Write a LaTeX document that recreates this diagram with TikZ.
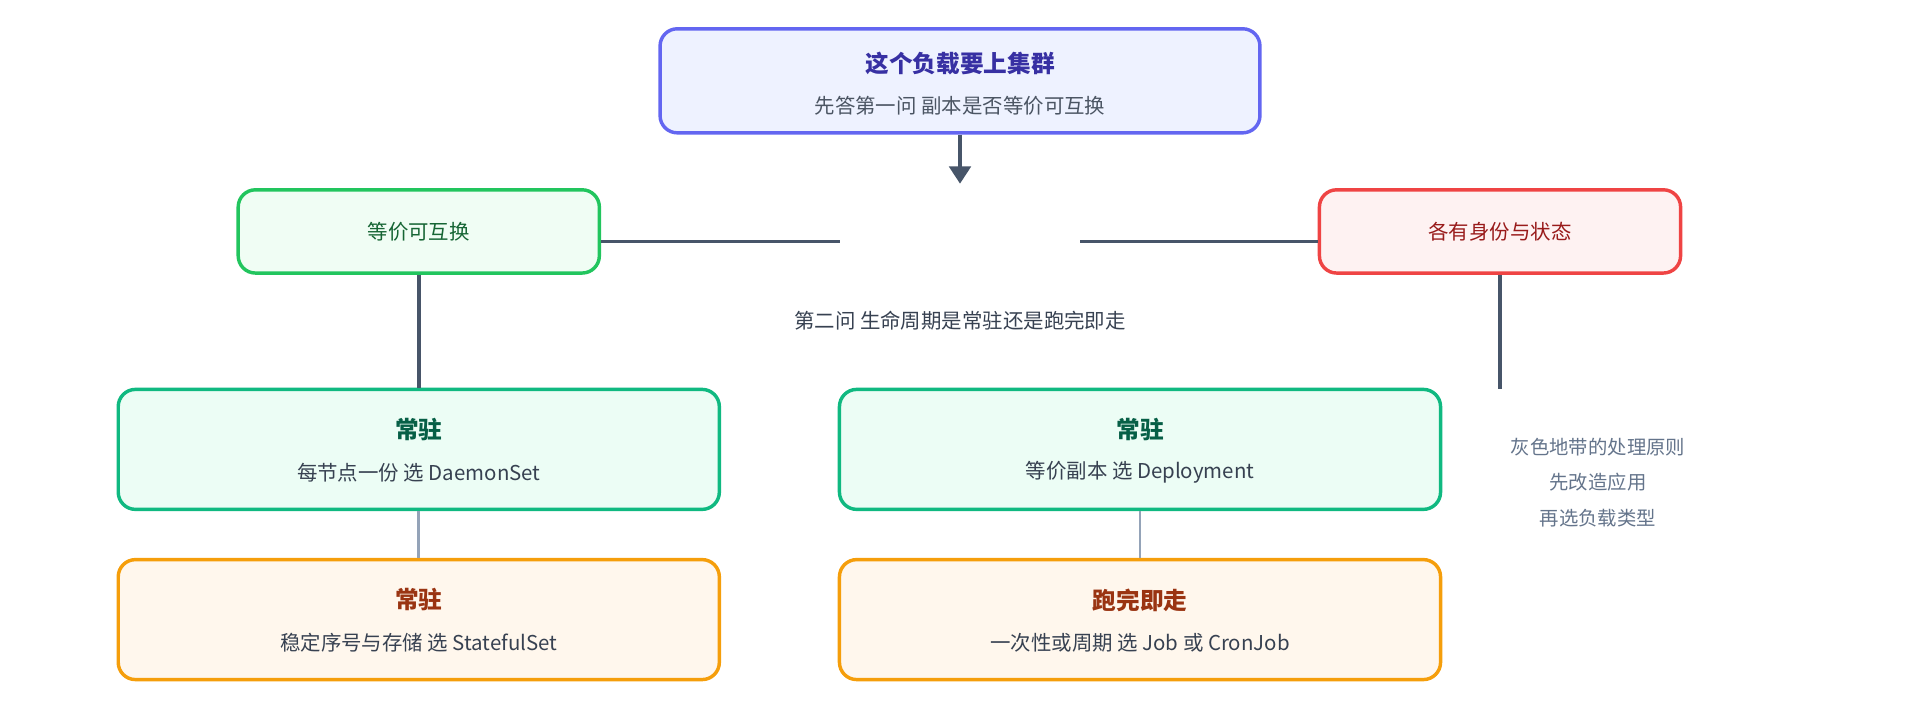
\documentclass[tikz,border=0pt]{standalone}
\usepackage{fontspec}
\setmainfont{Noto Sans CJK SC}
\usetikzlibrary{arrows.meta}
\definecolor{lineC}{HTML}{475569}
\definecolor{softC}{HTML}{94A3B8}
\definecolor{noteC}{HTML}{64748B}
\definecolor{subC}{HTML}{374151}
\definecolor{askD}{HTML}{6366F1}
\definecolor{askF}{HTML}{EEF2FF}
\definecolor{askT}{HTML}{3730A3}
\definecolor{askS}{HTML}{4B5563}
\definecolor{sameD}{HTML}{22C55E}
\definecolor{sameF}{HTML}{F0FDF4}
\definecolor{sameT}{HTML}{166534}
\definecolor{ownD}{HTML}{EF4444}
\definecolor{ownF}{HTML}{FEF2F2}
\definecolor{ownT}{HTML}{991B1B}
\definecolor{runD}{HTML}{10B981}
\definecolor{runF}{HTML}{ECFDF5}
\definecolor{runT}{HTML}{065F46}
\definecolor{endD}{HTML}{F59E0B}
\definecolor{endF}{HTML}{FFF7ED}
\definecolor{endT}{HTML}{9A3412}
\tikzset{
  box/.style={draw, line width=1.6pt, rounded corners=8pt, align=center, inner sep=0pt},
  title/.style={font=\fontsize{11pt}{14pt}\selectfont\bfseries},
  sub/.style={font=\fontsize{9.5pt}{12pt}\selectfont},
}
\begin{document}
\begin{tikzpicture}[x=0.02cm,y=-0.02cm]
    \useasboundingbox (0,0) rectangle (1568,588);

    % question box
    \node[box, draw=askD, fill=askF, minimum width=9.8cm, minimum height=1.7cm] (ask) at (784,66) {};
    \node[title, text=askT] at (784,52) {这个负载要上集群};
    \node[sub, text=askS] at (784,86) {先答第一问 副本是否等价可互换};
    \coordinate (fork) at (784,150);
    \draw[line width=1.6pt, lineC, -{Triangle[length=8pt,width=10pt]}] (ask) -- (fork);

    % first answers
    \node[box, draw=sameD, fill=sameF, text=sameT, sub, minimum width=5.9cm, minimum height=1.36cm] (same) at (342,189) {等价可互换};
    \node[box, draw=ownD, fill=ownF, text=ownT, sub, minimum width=5.9cm, minimum height=1.36cm] (own) at (1225,189) {各有身份与状态};
    \coordinate (gapL) at (686,197);
    \coordinate (gapR) at (882,197);
    \draw[line width=1.6pt, lineC] (same.east |- gapL) -- (gapL);
    \draw[line width=1.6pt, lineC] (gapR) -- (own.west |- gapR);
    \node[sub, text=subC] (second) at (784,262) {第二问 生命周期是常驻还是跑完即走};

    % second answers
    \node[box, draw=runD, fill=runF, minimum width=9.82cm, minimum height=1.96cm] (ds) at (342,367) {};
    \node[title, text=runT] at (342,351) {常驻};
    \node[sub, text=subC] at (342,386) {每节点一份 选 DaemonSet};
    \node[box, draw=runD, fill=runF, minimum width=9.82cm, minimum height=1.96cm] (dep) at (931,367) {};
    \node[title, text=runT] at (931,351) {常驻};
    \node[sub, text=subC] at (931,386) {等价副本 选 Deployment};
    \node[box, draw=endD, fill=endF, minimum width=9.82cm, minimum height=1.96cm] (sts) at (342,506) {};
    \node[title, text=endT] at (342,490) {常驻};
    \node[sub, text=subC] at (342,525) {稳定序号与存储 选 StatefulSet};
    \node[box, draw=endD, fill=endF, minimum width=9.82cm, minimum height=1.96cm] (job) at (931,506) {};
    \node[title, text=endT] at (931,490) {跑完即走};
    \node[sub, text=subC] at (931,525) {一次性或周期 选 Job 或 CronJob};

    \coordinate (grayEnd) at (1225,318);
    \draw[line width=1.6pt, lineC] (same) -- (ds);
    \draw[line width=1.6pt, lineC] (own) -- (grayEnd);
    \draw[line width=1.2pt, softC] (ds) -- (sts);
    \draw[line width=1.2pt, softC] (dep) -- (job);

    \node[text=noteC, align=center, font=\fontsize{9pt}{16.5pt}\selectfont] (note) at (1305,394) {灰色地带的处理原则\\先改造应用\\再选负载类型};
\end{tikzpicture}
\end{document}
